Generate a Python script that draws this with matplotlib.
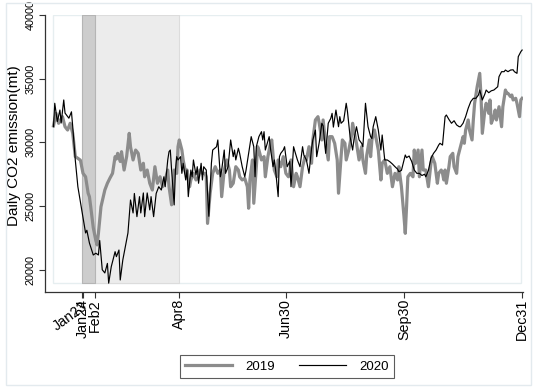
import matplotlib
matplotlib.use("Agg")
import matplotlib.pyplot as plt
from matplotlib.patches import Rectangle
from matplotlib.lines import Line2D

plt.rcParams['font.family'] = ['Liberation Sans', 'DejaVu Sans']

# ---- data (day of year, daily CO2 emission in mt) ----
days_2019 = [1,3,5,8,10,12,14,16,18,20,22,24,26,28,29,30,32,34,35,36,38,41,43,45,47,49,50,51,53,54,
             56,58,60,61,63,65,67,69,71,72,74,76,78,80,82,84,86,88,90,91,93,95,97,98,99,101,102,104,105,107,
             108,110,112,114,115,117,119,120,121,123,125,127,129,131,132,134,136,138,139,141,143,145,146,148,150,152,153,154,156,157,
             159,160,161,163,165,166,168,170,171,173,175,176,178,180,182,184,185,186,188,190,191,193,195,197,198,200,202,203,205,207,
             208,210,211,213,215,216,218,220,222,223,225,226,228,229,231,233,234,236,237,239,241,242,244,245,247,248,249,251,253,254,
             256,257,259,261,263,265,267,269,270,272,274,275,276,277,279,281,282,283,285,286,288,289,291,293,295,296,298,300,301,303,
             304,305,306,307,309,310,312,313,315,316,318,320,321,322,324,325,327,328,329,331,333,334,335,337,338,340,341,342,344,345,
             346,348,350,351,353,354,355,357,358,359,361,362,364,365,366]
co2_2019 = [31300,32280,31500,32020,31230,30970,31500,30710,28880,28750,28600,27570,27300,26010,25740,24950,23300,22300,21950,22860,
            24950,26260,26790,27200,27570,28880,28700,29140,28500,29270,27830,28900,30710,29660,28620,29400,29140,27830,28360,27300,
            27830,26790,26260,28090,26790,27300,26520,27050,27830,26520,25100,27830,27570,29660,30190,29400,28620,27570,27830,26520,
            27050,27570,27050,27300,27830,27570,27570,27300,23640,26000,27570,28090,27570,27830,25740,27830,28620,27830,26520,26790,
            28090,27830,27300,27050,27170,26520,24830,27050,28620,25220,28090,29660,29400,28620,28880,27300,28880,29930,30190,27830,
            27300,28620,28090,28880,27570,27300,27570,28620,26520,27570,27300,26520,28090,28880,28620,29660,28360,30190,31760,32020,
            31500,30190,31760,29930,28620,30450,30450,29930,28620,26010,28880,30190,29930,28620,29400,30450,31500,30450,29930,28620,
            29660,28620,27570,29000,30190,28880,30190,30970,29930,29400,27050,28360,28620,27570,28090,26520,27570,27050,28090,26520,
            24170,22860,24950,27300,27570,27300,29400,28360,29400,27300,29400,27830,27830,26520,28360,28880,28360,26790,27570,27830,
            27570,27050,27830,26790,28090,28880,29140,28090,27570,28880,29660,30450,29930,30970,31760,30970,30190,31760,33070,34370,
            35420,33590,30710,32540,33070,32280,33330,31500,32020,32540,31760,32800,31230,32800,34110,33850,33850,33590,33720,33330,
            33460,33070,32020,33330,33460]

days_2020 = [1,2,4,6,7,9,10,13,15,16,18,20,23,26,27,29,32,34,36,37,39,41,43,44,46,49,50,52,53,55,
             58,59,61,63,64,66,68,69,71,72,74,76,77,79,81,83,85,87,88,90,91,92,93,95,96,97,98,100,101,102,
             104,105,106,108,109,110,112,113,114,116,117,118,120,122,124,125,128,129,131,132,134,135,137,139,141,142,143,145,146,148,
             150,151,153,155,157,158,159,161,163,164,165,166,169,170,172,173,174,176,177,178,180,181,183,185,186,188,189,191,193,195,
             196,198,200,202,203,205,206,208,210,211,213,215,217,218,219,221,223,224,225,227,229,230,232,234,235,237,239,241,242,244,
             246,248,249,250,252,254,256,257,259,261,263,265,267,269,270,272,275,276,278,280,282,284,286,288,290,291,293,295,297,299,
             301,302,304,306,307,309,311,313,315,317,318,320,322,324,326,328,330,332,333,335,337,338,340,342,344,345,347,348,350,352,
             353,355,357,359,360,362,363,365,366]
co2_2020 = [31230,33070,31630,32540,31520,33330,32300,31900,32400,31230,28600,26520,24700,22890,23100,22100,21160,21300,21160,22300,
            20000,19750,20500,18950,20240,21420,21030,21550,19200,20770,22340,22890,25480,24460,25990,24170,25740,24460,26030,24170,
            26030,24700,25740,24170,25990,26520,26260,27300,26520,28620,29270,29400,27830,25090,27830,28880,28620,28880,27570,28360,
            27050,27830,25740,27830,27300,28620,27440,28090,26790,28360,27050,28090,27830,24200,28360,29400,29660,30190,27300,27830,
            29400,27570,28090,30190,28880,29400,28620,29540,29140,28090,27300,27830,29140,30450,29660,27300,29660,30450,30840,30190,
            30840,29400,30450,29540,28090,28620,27830,25740,28880,29140,29400,29660,28090,28500,26520,29660,29300,28620,28090,29660,
            29000,28620,27570,29500,30190,30970,28880,30000,31500,31300,29140,31500,31890,32280,31200,32540,31230,32020,31500,31700,
            33070,32400,30450,29400,30200,31230,30200,29930,29660,33070,31230,30450,30300,31230,32020,30970,29400,30580,28620,28620,
            28480,28300,28090,27900,27700,27800,29010,28800,28930,28500,27830,27570,27570,27400,27500,27300,27800,28750,29140,29400,
            29790,29930,29790,32020,32150,31800,31500,31700,31370,31230,31230,31500,32020,32680,33200,33460,33460,33720,34110,33330,
            33800,34110,33900,34050,34110,34200,34370,35160,35550,35550,35680,35550,35680,35700,35550,35420,36730,37120,37250]

series_labels = ["2019", "2020"]
tick_days = [23, 24, 33, 99, 182, 274, 366]
tick_labels = ["Jan23", "Jan24", "Feb2", "Apr8", "Jun30", "Sep30", "Dec31"]
y_ticks = [20000, 25000, 30000, 35000, 40000]
period_strict = (23, 33)     # Jan23 - Feb2
period_relaxed = (33, 99)    # Feb2 - Apr8
shade_low, shade_high = 19000, 40000

# ---- figure ----
W, H = 536, 391
fig = plt.figure(figsize=(W / 100, H / 100), dpi=100)
fig.patch.set_facecolor('white')

# outer graph-region border
fig.patches.append(Rectangle((6 / W, 1 - 385 / H), 525 / W, 382 / H, transform=fig.transFigure,
                             fill=False, edgecolor='#e3eaee', linewidth=1.0))

ax_l, ax_r, ax_b, ax_t = 45, 523.4, 292, 15
ax = fig.add_axes([ax_l / W, 1 - ax_b / H, (ax_r - ax_l) / W, (ax_b - ax_t) / H])
ax.set_xlim(-5.6, 367)
ax.set_ylim(18255, 40000)

# plot region border
ax.add_patch(Rectangle((0.0167, 0.0325), 0.978, 0.9675, transform=ax.transAxes,
                       fill=False, edgecolor='#e6eef0', linewidth=1.0, zorder=0))

# shaded periods
ax.fill_between(list(period_relaxed), shade_low, shade_high, facecolor='#ececec',
                edgecolor='#dcdcdc', linewidth=0.8, zorder=1)
ax.fill_between(list(period_strict), shade_low, shade_high, facecolor='#cdcdcd',
                edgecolor='#b5b5b5', linewidth=0.8, zorder=1)

ax.plot(days_2019, co2_2019, color='#8c8c8c', linewidth=2.3, zorder=3,
        solid_joinstyle='round', label=series_labels[0])
ax.plot(days_2020, co2_2020, color='black', linewidth=0.85, zorder=4, label=series_labels[1])

for s in ['top', 'right']:
    ax.spines[s].set_visible(False)
for s in ['left', 'bottom']:
    ax.spines[s].set_color('#333333')
    ax.spines[s].set_linewidth(0.9)

ax.set_yticks(y_ticks)
ax.set_yticklabels([str(v) for v in y_ticks], rotation=90, va='center', fontsize=7.8)
ax.tick_params(axis='y', length=4, width=0.8, pad=3, colors='#333333', labelcolor='black')

ax.set_xticks(tick_days)
ax.set_xticklabels(tick_labels, rotation=90, fontsize=10.3, va='top', ha='center')
ax.tick_params(axis='x', length=4, width=0.8, pad=1, colors='#333333', labelcolor='black')
lbl0 = ax.get_xticklabels()[0]
lbl0.set_rotation(36)
lbl0.set_ha('right')
lbl0.set_rotation_mode('anchor')

ax.set_ylabel('Daily CO2 emission(mt)', fontsize=11)
ax.yaxis.set_label_coords(-0.051, 0.53)

leg = fig.legend(handles=[Line2D([], [], color='#8c8c8c', linewidth=2.3),
                          Line2D([], [], color='black', linewidth=0.85)],
                 labels=series_labels, loc='center', bbox_to_anchor=(287 / W, 1 - 366.5 / H),
                 ncol=2, fontsize=9.5, frameon=True, fancybox=False, handlelength=3.6,
                 columnspacing=1.8, handletextpad=1.0, borderpad=0.4)
leg.get_frame().set_edgecolor('#333333')
leg.get_frame().set_linewidth(0.8)

fig.savefig('out.png', dpi=100, facecolor='white')
